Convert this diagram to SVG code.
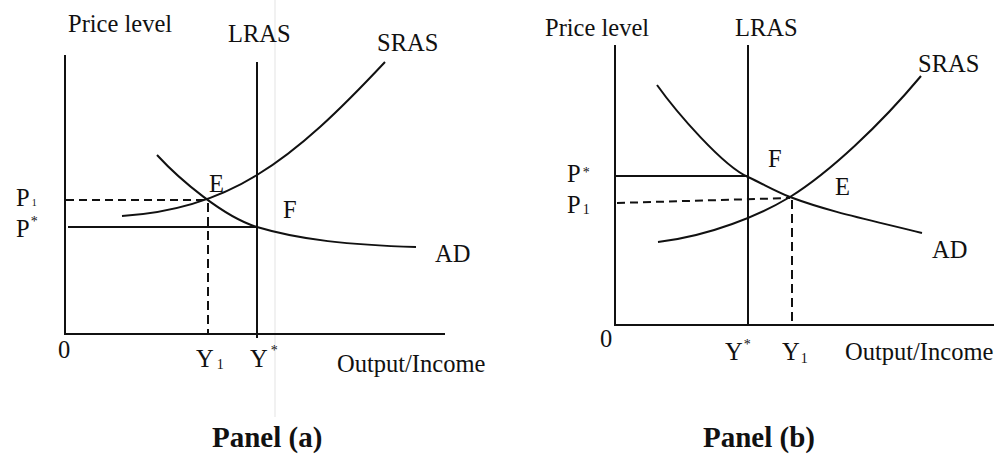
<svg xmlns="http://www.w3.org/2000/svg" width="1005" height="454" viewBox="0 0 1005 454">
<style>
.ln{fill:none;stroke:#111;stroke-width:2}
.dh{fill:none;stroke:#111;stroke-width:2;stroke-dasharray:8 5}
.dv{fill:none;stroke:#111;stroke-width:2;stroke-dasharray:9 5}
.t{font-family:"Liberation Serif","Times New Roman",serif;font-size:24.5px;fill:#111}
.s{font-size:14px}
.b{font-family:"Liberation Serif","Times New Roman",serif;font-size:29px;font-weight:bold;fill:#111}
</style>
<rect width="1005" height="454" fill="#ffffff"/>
<g id="watermark">
<line x1="275" y1="0" x2="275" y2="417" stroke="#ececec" stroke-width="1.5"/>
</g>
<g id="panel-a">
<g id="a-axes">
<line class="ln" x1="65" y1="55" x2="65" y2="335"/>
<line class="ln" x1="64" y1="334" x2="445" y2="334"/>
</g>
<g id="a-connectors">
<line class="ln" x1="257" y1="62" x2="257" y2="338"/>
<path class="ln" d="M122,216 C170,213 215,201 257,175 C300,149 340,110 385,62"/>
<path class="ln" d="M157,155 C180,180 224,217 257,227 C300,240 350,245 416,247"/>
<line class="dh" x1="66" y1="200" x2="207" y2="200"/>
<line class="ln" x1="68" y1="227" x2="257" y2="227"/>
<line class="dv" x1="208" y1="203" x2="208" y2="334"/>
</g>
<g id="a-labels">
<text class="t" x="68" y="32">Price level</text>
<text class="t" x="228" y="42">LRAS</text>
<text class="t" x="377" y="51">SRAS</text>
<text class="t" x="209" y="192">E</text>
<text class="t" x="283" y="218">F</text>
<text class="t" x="16" y="206">P<tspan font-size="10" dx="2">1</tspan></text>
<text class="t" x="16" y="237">P<tspan class="s" dx="1" dy="-11">*</tspan></text>
<text class="t" x="435" y="262">AD</text>
<text class="t" x="58" y="358">0</text>
<text class="t" x="196" y="367">Y<tspan class="s" dx="3" dy="2">1</tspan></text>
<text class="t" x="250" y="367">Y<tspan class="s" dx="3" dy="-12">*</tspan></text>
<text class="t" x="337" y="372">Output/Income</text>
<text class="b" x="212" y="447">Panel (a)</text>
</g>
</g>
<g id="panel-b">
<g id="b-axes">
<line class="ln" x1="615" y1="45" x2="615" y2="326"/>
<line class="ln" x1="614" y1="325" x2="994" y2="325"/>
</g>
<g id="b-connectors">
<line class="ln" x1="748" y1="45" x2="748" y2="326"/>
<path class="ln" d="M658,242 C710,236 760,215 790,197 C830,172 880,125 921,76"/>
<path class="ln" d="M657,85 C677,113 723,166 748,177 C765,185 775,191 790,197 C830,212 870,220 922,233"/>
<line class="ln" x1="615" y1="176" x2="748" y2="176"/>
<line class="dh" x1="617" y1="203" x2="790" y2="198"/>
<line class="dv" x1="792" y1="200" x2="792" y2="325"/>
</g>
<g id="b-labels">
<text class="t" x="545" y="36">Price level</text>
<text class="t" x="735" y="36">LRAS</text>
<text class="t" x="918" y="72">SRAS</text>
<text class="t" x="768" y="167">F</text>
<text class="t" x="835" y="195">E</text>
<text class="t" x="567" y="182">P<tspan class="s" dx="2" dy="-5">*</tspan></text>
<text class="t" x="567" y="213">P<tspan class="s" dx="2" dy="1">1</tspan></text>
<text class="t" x="932" y="258">AD</text>
<text class="t" x="600" y="347">0</text>
<text class="t" x="725" y="360">Y<tspan class="s" dx="1" dy="-11">*</tspan></text>
<text class="t" x="782" y="360">Y<tspan class="s" dx="1" dy="3">1</tspan></text>
<text class="t" x="845" y="360">Output/Income</text>
<text class="b" x="703" y="447">Panel (b)</text>
</g>
</g>
</svg>
